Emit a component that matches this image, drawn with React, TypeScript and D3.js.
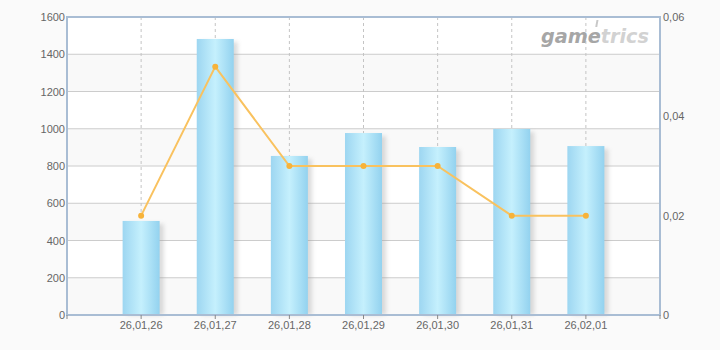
import React from "react";
import * as d3 from "d3";

const categories = ["26,01,26", "26,01,27", "26,01,28", "26,01,29", "26,01,30", "26,01,31", "26,02,01"];
const barValues = [505, 1482, 854, 977, 902, 999, 907];
const lineValues = [0.02, 0.05, 0.03, 0.03, 0.03, 0.02, 0.02];
const leftTicks = [0, 200, 400, 600, 800, 1000, 1200, 1400, 1600];
const rightTicks = [0, 0.02, 0.04, 0.06];

const W = 720, H = 350;
const L = 67, R = 660, T = 17, B = 315;

export default function App() {
  const x = d3.scaleLinear().domain([0, categories.length + 1]).range([L, R]);
  const y = d3.scaleLinear().domain([0, 1600]).range([B, T]);
  const y2 = d3.scaleLinear().domain([0, 0.06]).range([B, T]);
  const barW = 37;
  const line = d3.line<number>().x((_, i) => x(i + 1)).y((d) => y2(d));
  const font = "'Liberation Sans', Arial, sans-serif";
  const fmt = (v: number) => (v === 0 ? "0" : String(v).replace(".", ","));
  return (
    <svg width={W} height={H} style={{ position: "absolute", left: 0, top: 0, background: "#fafafa" }}>
      <defs>
        <linearGradient id="barg" x1="0" x2="1" y1="0" y2="0">
          <stop offset="0" stopColor="#9dd6f1" />
          <stop offset="0.5" stopColor="#c5f0fd" />
          <stop offset="1" stopColor="#93d2ef" />
        </linearGradient>
        <filter id="blur" x="-50%" y="-10%" width="200%" height="120%">
          <feGaussianBlur stdDeviation="2" />
        </filter>
      </defs>
      <rect x={L} y={T} width={R - L} height={B - T} fill="#ffffff" />
      {leftTicks.slice(0, -1).map((t, i) => (
        <rect key={"b2" + t} x={L} y={y(t + 200)} width={R - L} height={y(t) - y(t + 200)} fill={i % 2 === 0 ? "#f9f9f9" : "#ffffff"} />
      ))}
      {leftTicks.map((t) => (
        <line key={"g" + t} x1={L} x2={R} y1={y(t)} y2={y(t)} stroke="#cccccc" strokeWidth={1} />
      ))}
      {categories.map((c, i) => (
        <line key={"v" + c} x1={x(i + 1)} x2={x(i + 1)} y1={T} y2={B} stroke="#c4c4c4" strokeDasharray="3,3" strokeWidth={1} />
      ))}
      <g>
        <text x={541} y={43} fontFamily="'DejaVu Sans', sans-serif" fontStyle="italic" fontWeight="bold" fontSize={20} fill="#a6a6a6" textLength={108} lengthAdjust="spacingAndGlyphs">
          game<tspan fill="#d2d2d2">trics</tspan>
        </text>
        <rect x={600} y={20} width={2} height={7} fill="#c8c8c8" transform="skewX(-10)" />
      </g>
      {barValues.map((v, i) => (
        <rect key={"s" + i} x={x(i + 1) - barW / 2 + 4} y={y(v) + 3} width={barW} height={B - y(v) - 3} fill="#9a9a9a" opacity={0.35} filter="url(#blur)" />
      ))}
      {barValues.map((v, i) => (
        <rect key={"bar" + i} x={x(i + 1) - barW / 2} y={y(v)} width={barW} height={B - y(v)} fill="url(#barg)" />
      ))}
      <path d={line(lineValues) || ""} fill="none" stroke="#f9c25f" strokeWidth={2} />
      {lineValues.map((v, i) => (
        <circle key={"p" + i} cx={x(i + 1)} cy={y2(v)} r={3} fill="#f7b33a" />
      ))}
      <g stroke="#a9bdd4" strokeWidth={2} fill="none">
        <line x1={L} x2={L} y1={T - 1} y2={B + 1} />
        <line x1={R} x2={R} y1={T - 1} y2={B + 1} />
        <line x1={L} x2={R} y1={T} y2={T} />
        <line x1={L} x2={R} y1={B} y2={B} />
      </g>
      <g stroke="#888" strokeWidth={1}>
        <line x1={L} x2={L} y1={B} y2={B + 4} />
        <line x1={R} x2={R} y1={B} y2={B + 4} />
        {categories.map((c, i) => (
          <line key={"t" + c} x1={x(i + 1)} x2={x(i + 1)} y1={B} y2={B + 4} />
        ))}
      </g>
      {leftTicks.map((t) => (
        <text key={"l" + t} x={L - 2} y={y(t) + 4} textAnchor="end" fontFamily={font} fontSize={11} fill="#666">
          {t}
        </text>
      ))}
      {rightTicks.map((t) => (
        <text key={"r" + t} x={R + 3} y={y2(t) + 4} textAnchor="start" fontFamily={font} fontSize={11} fill="#666">
          {fmt(t)}
        </text>
      ))}
      {categories.map((c, i) => (
        <text key={"c" + c} x={x(i + 1)} y={329} textAnchor="middle" fontFamily={font} fontSize={11} fill="#666">
          {c}
        </text>
      ))}
    </svg>
  );
}
